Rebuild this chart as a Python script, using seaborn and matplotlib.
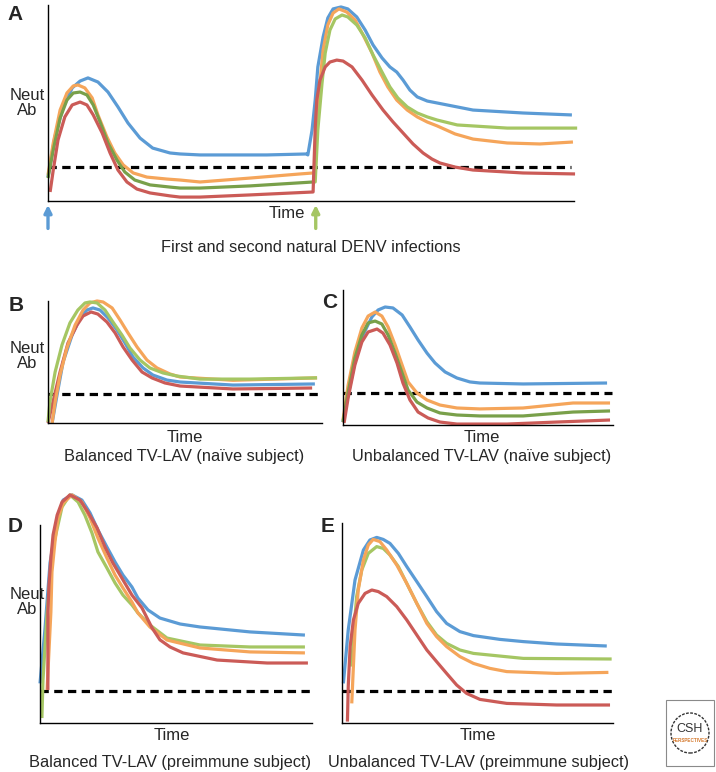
import matplotlib.pyplot as plt
import matplotlib.patches as mpatches
import seaborn as sns
import pandas as pd

# line colours of the original figure
palette = {'blue': '#5b9bd5', 'orange': '#f5a55a', 'green': '#a5c663',
           'olive': '#79a04a', 'red': '#cb5b57'}

# ---- panel A: first and second natural infection ----
a_blue_t = [0, 1.3, 2.9, 4.6, 6.1, 7.6, 9.5, 11.4, 13.3, 15.2, 17.5, 19.9, 23.2, 25.1, 28.9, 41.6, 49.2,
            49.4, 50.2, 50.8, 51.3, 52.3, 53.2, 54.2, 55.7, 57.0, 58.7, 60.3, 61.8, 63.5, 65.0,
            66.3, 67.5, 68.8, 70.2, 72.1, 74.0, 80.8, 90.3, 99.6]
a_blue_ab = [12.2, 32.7, 48, 57.7, 61.2, 62.8, 60.7, 55.6, 48, 39.8, 32.1, 27, 24.5, 24, 23.5, 23.5, 24,
             23.5, 36.2, 51.5, 68.4, 83.7, 93.4, 98, 99, 98, 93.9, 87.2, 79.6, 73, 68.4,
             65.8, 61.7, 56.6, 53.1, 51, 50, 46.4, 44.9, 43.9]
a_orange_t = [0, 1.0, 2.3, 3.6, 4.8, 5.7, 7.0, 8.4, 9.5, 11.2, 12.7, 14.3, 16.2, 18.8, 22.6, 25.1,
              28.9, 38.4, 47.9, 50.4, 50.8, 51.1, 51.7, 52.3, 53.2, 54.2, 55.3, 56.8, 58.4, 59.9,
              61.6, 63.1, 64.6, 66.3, 68.3, 70.2, 72.1, 74.0, 77.4, 80.8, 87.3, 93.5, 99.8]
a_orange_ab = [13.3, 29.6, 46.4, 55.1, 58.7, 59.2, 57.7, 52.6, 43.9, 32.7, 24.5, 18.4, 14.3, 12.2, 11.2, 10.7,
               9.7, 11.7, 13.8, 14.3, 14.3, 36.2, 60.2, 77, 89.8, 95.9, 98, 96.4, 92.3, 84.7,
               75.5, 65.8, 58.2, 51.5, 46.4, 42.9, 40.3, 38.3, 34.2, 31.6, 29.6, 29.1, 30.1]
a_olive_t = [0, 1.0, 2.3, 3.6, 4.8, 6.1, 7.4, 8.6, 9.9, 11.4, 13.1, 14.6, 16.5, 19.4, 23.2, 25.1,
             28.9, 38.4, 50.4]
a_olive_ab = [11.7, 26, 42.3, 51.5, 55.1, 55.6, 54.1, 49, 40.3, 29.6, 20.9, 14.8, 10.7, 8.2, 7.1, 6.6,
              6.6, 7.7, 9.7]
a_green_t = [50.4, 50.8, 51.3, 52.1, 52.7, 53.6, 54.6, 55.9, 57.0, 58.7, 60.3, 61.8, 63.5, 65.0,
             66.5, 68.3, 70.2, 72.1, 74.0, 77.8, 87.3, 100.6]
a_green_ab = [9.7, 9.7, 36.2, 60.2, 75.5, 87.2, 92.9, 94.9, 93.9, 89.8, 83.2, 74.5, 65.8, 58.2,
              52.6, 48, 44.9, 42.9, 41.3, 38.8, 37.2, 37.2]
a_red_t = [0.4, 1.0, 1.9, 3.2, 4.6, 6.1, 7.4, 8.6, 10.3, 11.8, 13.3, 15.0, 16.9, 19.4, 23.2, 25.1,
           28.9, 38.4, 50.4, 50.6, 50.8, 51.1, 51.7, 52.7, 53.6, 54.9, 56.1, 57.8, 59.7, 61.6,
           63.7, 65.6, 67.5, 69.4, 71.3, 73.0, 74.5, 77.4, 80.8, 90.3, 100.2]
a_red_ab = [4.6, 15.8, 31.1, 42.9, 49, 50.5, 49, 43.9, 34.7, 24.5, 15.8, 9.7, 6.1, 4.1, 2.6, 2,
            2, 3.1, 4.6, 20.9, 37.2, 51.5, 61.7, 68.4, 70.9, 71.9, 71.4, 68.4, 61.7, 54.1,
            46.4, 40.3, 34.7, 29.1, 24.5, 21.4, 19.4, 17.3, 15.8, 14.3, 13.8]

# ---- panel B: balanced TV-LAV, naive ----
b_blue_t = [1.5, 3.3, 5.5, 8.8, 11.7, 14.2, 16.4, 19.0, 21.9, 25.2, 28.1, 31.0, 34.7, 38.3,
            43.4, 48.2, 67.5, 97.4]
b_blue_ab = [0, 23, 50, 72.1, 86.1, 92.6, 94.3, 92.6, 86.1, 76.2, 65.6, 54.1, 45.1, 39.3,
             35.2, 33.6, 31.1, 32]
b_orange_t = [1.5, 2.6, 4.4, 6.9, 9.9, 12.8, 15.3, 17.9, 20.1, 23.4, 26.3, 29.2, 32.5, 36.1,
              39.8, 44.5, 48.2, 67.5, 98.2]
b_orange_ab = [0, 17.2, 39.3, 61.5, 80.3, 92.6, 98.4, 100, 99.2, 94.3, 84.4, 73.8, 62.3, 51.6,
               45.1, 40.2, 37.7, 35, 37]
b_green_t = [0, 0.7, 2.6, 5.1, 8.0, 10.9, 13.5, 15.3, 17.9, 20.8, 23.7, 27.0, 29.9, 33.6,
             37.2, 42.0, 47.1, 55.5, 73.7, 98.2]
b_green_ab = [0.8, 17.2, 41.8, 63.9, 82, 92.6, 98.4, 99.2, 98.4, 92.6, 82.8, 72.1, 61.5, 51.6,
              45.1, 41, 38.5, 36, 36, 37]
b_red_t = [0, 1.8, 4.4, 7.3, 10.6, 12.8, 15.7, 18.2, 21.5, 24.5, 27.4, 30.7, 34.3, 38.0,
           42.7, 48.2, 67.5, 96.4]
b_red_ab = [0, 17.2, 41.8, 65.6, 80.3, 87.7, 91, 89.3, 82.8, 73.8, 62.3, 51.6, 41.8, 36.9,
            32.8, 30.3, 27.9, 28.7]

# ---- panel C: unbalanced TV-LAV, naive ----
c_blue_t = [0, 1.9, 4.4, 7.4, 10.7, 13.0, 15.6, 18.5, 21.9, 24.8, 27.8, 31.1, 34.1, 37.8,
            42.2, 47.0, 50.7, 66.7, 97.8]
c_blue_ab = [2.2, 22.2, 46.7, 66.7, 80, 85.2, 87.4, 86.7, 81.5, 72.6, 63, 53.3, 45.9, 39.3,
             34.8, 31.9, 31.1, 30.4, 31.1]
c_orange_t = [0, 1.9, 4.4, 7.0, 9.3, 11.9, 14.4, 16.7, 19.3, 21.9, 24.1, 27.4, 31.1, 35.9,
              42.2, 50.7, 66.7, 85.2, 98.9]
c_orange_ab = [3.7, 29.6, 54.1, 71.9, 80.7, 83.7, 80.7, 72.6, 59.3, 44.4, 31.9, 23.7, 18.5, 14.8,
               12.6, 11.9, 12.6, 16.3, 16.3]
c_olive_t = [0, 1.9, 4.4, 7.0, 9.3, 11.9, 14.4, 16.7, 19.3, 21.9, 24.1, 27.4, 31.1, 35.9,
             42.2, 50.7, 66.7, 85.2, 98.9]
c_olive_ab = [2.2, 24.4, 49.6, 66.7, 75.6, 77, 74.8, 66.7, 53.3, 38.5, 25.9, 17, 12.6, 8.9,
              7.4, 6.7, 6.7, 9.6, 10.4]
c_red_t = [0.4, 1.9, 4.4, 7.0, 9.3, 12.6, 14.8, 17.4, 20.0, 22.2, 24.8, 27.8, 31.5, 35.9,
           42.2, 50.7, 60.7, 79.3, 98.9]
c_red_ab = [1.5, 20, 44.4, 61.5, 68.9, 71.1, 68.1, 59.3, 45.9, 31.1, 18.5, 9.6, 5.2, 2.2,
            0.7, 0.7, 0.7, 2.2, 3.7]

# ---- panel D: balanced TV-LAV, preimmune ----
d_blue_t = [0, 1.8, 3.7, 6.3, 8.5, 11.8, 15.4, 18.4, 21.3, 24.6, 27.6, 30.5, 33.8, 36.0,
            39.7, 44.1, 51.5, 58.8, 77.2, 97.4]
d_blue_ab = [20, 47, 81, 102.5, 112.6, 115.2, 112.6, 106.1, 97.5, 88.9, 81.3, 74.7, 68.7, 63.1,
             57.1, 53, 50, 48.5, 46, 44.4]
d_green_t = [0.7, 1.1, 2.6, 4.8, 8.1, 11.0, 14.0, 16.5, 19.1, 21.3, 24.6, 27.6, 30.5, 33.8,
             36.0, 40.4, 46.7, 58.8, 77.2, 97.4]
d_green_ab = [2.5, 21.7, 55.6, 88.9, 109.1, 115.2, 111.6, 105, 96, 86.4, 78.3, 70.7, 64.6, 59.6,
              55.6, 49.5, 42.9, 39.4, 38.4, 38.4]
d_orange_t = [2.6, 4.0, 4.4, 5.5, 6.6, 8.5, 11.8, 15.4, 18.4, 21.3, 24.6, 27.6, 30.5, 33.8,
              36.0, 40.4, 46.7, 58.8, 77.2, 97.4]
d_orange_ab = [16.7, 56, 76.3, 91.4, 103.5, 111.1, 115.2, 111.6, 103.5, 93.4, 83.3, 74.7, 68.2, 61.1,
               55.6, 48.5, 41.9, 37.9, 35.9, 35.4]
d_red_t = [2.9, 2.9, 3.3, 4.0, 4.8, 6.3, 8.1, 11.0, 14.7, 17.6, 21.0, 23.9, 26.8, 30.1, 33.8,
           37.5, 41.2, 44.1, 47.8, 52.6, 65.1, 83.5, 98.5]
d_red_ab = [16.7, 56, 69.7, 83.3, 95, 105, 111.6, 115.2, 112.6, 106.6, 98.5, 88.9, 80.8, 73.2, 64.6,
            58.1, 48, 42, 38.4, 35.4, 31.8, 30.3, 30.3]

# ---- panel E: unbalanced TV-LAV, preimmune ----
e_blue_t = [0.5, 2.3, 4.8, 7.9, 10.3, 12.8, 15.2, 17.7, 20.8, 23.9, 27.6, 31.3, 34.9, 38.6,
            43.5, 48.5, 58.3, 66.9, 79.2, 97.7]
e_blue_ab = [19.8, 46.5, 71.5, 86.5, 91.5, 92.8, 91.8, 89.8, 84.8, 78.2, 70.7, 63.2, 55.7, 49.8,
             45.7, 43.7, 41.8, 40.7, 39.5, 38.5]
e_green_t = [3.6, 4.2, 5.4, 7.3, 9.7, 12.8, 15.2, 17.7, 20.8, 23.9, 27.6, 31.3, 34.9, 38.6,
             43.5, 48.5, 66.9, 99.5]
e_green_ab = [28.2, 43.2, 63.2, 76.5, 84.8, 88.2, 87.3, 84, 78.2, 69.8, 59.8, 50.7, 44, 39.8,
              36.5, 34.8, 32.3, 32]
e_orange_t = [3.6, 4.8, 6.0, 7.9, 9.7, 11.5, 14.0, 16.5, 20.2, 23.9, 27.6, 31.3, 34.9, 38.6,
              43.5, 48.5, 54.6, 60.8, 79.2, 98.3]
e_orange_ab = [9.8, 46.5, 66.5, 81.5, 89, 91.8, 90.7, 86.5, 79, 69.8, 59.8, 49.8, 43.2, 38.2,
               33.2, 29.8, 27.3, 25.7, 24.8, 25.3]
e_red_t = [2.0, 2.3, 3.0, 4.2, 6.0, 8.5, 11.0, 13.4, 16.5, 20.2, 23.9, 27.6, 31.3, 34.9,
           38.6, 42.3, 46.0, 50.9, 60.8, 79.2, 98.9]
e_red_ab = [0.7, 18.2, 38.2, 51.5, 59.8, 64.8, 66.5, 65.7, 63.2, 58.2, 51.5, 44, 36.5, 30.7,
            24.8, 19, 14.8, 11.8, 9.8, 9, 9]

# protective threshold (dashed line) per panel
thresholds = {'A': 17.3, 'B': 23.8, 'C': 23.7, 'D': 16.2, 'E': 16.0}

captions = {'A': 'First and second natural DENV infections',
            'B': 'Balanced TV-LAV (naïve subject)',
            'C': 'Unbalanced TV-LAV (naïve subject)',
            'D': 'Balanced TV-LAV (preimmune subject)',
            'E': 'Unbalanced TV-LAV (preimmune subject)'}

panels = {
    'A': [('blue', a_blue_t, a_blue_ab), ('orange', a_orange_t, a_orange_ab),
          ('olive', a_olive_t, a_olive_ab), ('green', a_green_t, a_green_ab),
          ('red', a_red_t, a_red_ab)],
    'B': [('blue', b_blue_t, b_blue_ab), ('red', b_red_t, b_red_ab),
          ('orange', b_orange_t, b_orange_ab), ('green', b_green_t, b_green_ab)],
    'C': [('blue', c_blue_t, c_blue_ab), ('orange', c_orange_t, c_orange_ab),
          ('olive', c_olive_t, c_olive_ab), ('red', c_red_t, c_red_ab)],
    'D': [('blue', d_blue_t, d_blue_ab), ('green', d_green_t, d_green_ab),
          ('orange', d_orange_t, d_orange_ab), ('red', d_red_t, d_red_ab)],
    'E': [('blue', e_blue_t, e_blue_ab), ('green', e_green_t, e_green_ab),
          ('orange', e_orange_t, e_orange_ab), ('red', e_red_t, e_red_ab)],
}

sns.set_style('white')
plt.rcParams['font.family'] = ['Liberation Sans', 'DejaVu Sans']

W, H = 716, 772
fig = plt.figure(figsize=(W / 100, H / 100), dpi=100)


def px(x, y):
    return x / W, 1 - y / H


# axes boxes in reference pixels: left, top, right, bottom
boxes = {'A': (48, 5, 574, 201), 'B': (48, 301, 322, 423), 'C': (343, 290, 613, 425),
         'D': (40, 525, 312, 723), 'E': (342, 523, 613, 723)}

for key, curves in panels.items():
    l, t, r, b = boxes[key]
    ax = fig.add_axes([l / W, 1 - b / H, (r - l) / W, (b - t) / H])
    rows = []
    for name, ts, abs_ in curves:
        for x, y in zip(ts, abs_):
            rows.append({'time': x, 'ab': y, 'series': name})
    df = pd.DataFrame(rows)
    sns.lineplot(data=df, x='time', y='ab', hue='series', palette=palette,
                 hue_order=[c[0] for c in curves], sort=False, estimator=None,
                 legend=False, linewidth=2.3, clip_on=False, ax=ax,
                 solid_joinstyle='round', solid_capstyle='butt')
    ax.axhline(thresholds[key], color='black', linewidth=2.3, dashes=(2.6, 1.7),
               xmax=0.995, zorder=0)
    ax.set_xlim(0, 100)
    ax.set_ylim(0, 100)
    ax.set_xticks([])
    ax.set_yticks([])
    ax.set_xlabel('')
    ax.set_ylabel('')
    ax.patch.set_alpha(0)
    sns.despine(ax=ax)
    for s in ('left', 'bottom'):
        ax.spines[s].set_color('black')
        ax.spines[s].set_linewidth(1.0)

    if key == 'A':
        # inoculation arrows at first and second infection
        for tx, col in ((0, palette['blue']), (50.9, palette['green'])):
            ax.annotate('', xy=(tx, -2), xytext=(tx, -14), annotation_clip=False,
                        arrowprops=dict(arrowstyle='-|>', color=col, lw=2.4,
                                        mutation_scale=11, shrinkA=0, shrinkB=0))

# panel letters
for key, (x, y) in {'A': (15, 15), 'B': (16, 305), 'C': (330, 302),
                    'D': (15, 527), 'E': (328, 527)}.items():
    fig.text(*px(x, y), key, fontsize=15, fontweight='bold', ha='center', va='center')

# y-axis labels
for y in (103, 356, 602):
    fig.text(*px(27, y), 'Neut\nAb', fontsize=12, ha='center', va='center',
             linespacing=0.95)

# x-axis labels
for x, y in ((287, 213), (185, 437), (482, 437), (172, 736), (478, 736)):
    fig.text(*px(x, y), 'Time', fontsize=12, ha='center', va='center')

# captions
for key, (x, y) in {'A': (311, 248), 'B': (184, 456), 'C': (482, 456),
                    'D': (170, 762), 'E': (478, 762)}.items():
    fig.text(*px(x, y), captions[key], fontsize=11.8, ha='center', va='center')

# CSH Perspectives badge
fig.patches.append(mpatches.Rectangle(px(666, 766), 48 / W, 66 / H, transform=fig.transFigure,
                                      fill=False, edgecolor='#8a8a8a', linewidth=0.8))
fig.patches.append(mpatches.Ellipse(px(690, 733), 38 / W, 40 / H, transform=fig.transFigure,
                                    fill=False, edgecolor='#333333', linewidth=1.0,
                                    linestyle=(0, (2, 1))))
fig.text(*px(690, 729), 'CSH', fontsize=9, ha='center', va='center', color='#333333')
fig.text(*px(690, 741), 'PERSPECTIVES', fontsize=3.3, ha='center', va='center',
         color='#d4782c', fontweight='bold')

fig.savefig('out.png', dpi=100, facecolor='white')
